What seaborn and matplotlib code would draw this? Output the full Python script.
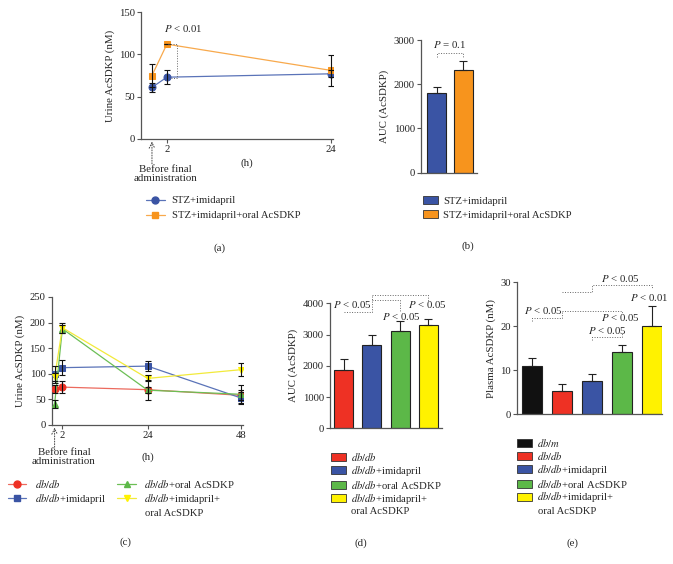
import matplotlib
matplotlib.use("Agg")
import matplotlib.pyplot as plt
import matplotlib.transforms as mtransforms
from matplotlib.lines import Line2D
from matplotlib.patches import Patch
import seaborn as sns
import pandas as pd

# ---- data ----
hours_a = [0, 2, 24]
stz_imi = [61, 73, 77]
stz_imi_sem = [5, 8, 4]
stz_oral = [75, 112, 81]
stz_oral_sem = [14, 0, 18]

groups_b = ["STZ+imidapril", "STZ+imidapril+oral AcSDKP"]
auc_b = [1800, 2320]
auc_b_sem = [130, 200]

hours_c = [0, 2, 24, 48]
dbdb_c = [71, 74, 69, 58]
dbdb_c_sem = [8, 12, 6, 10]
imi_c = [99, 112, 115, 53]
imi_c_sem = [16, 15, 10, 12]
oral_c = [41, 188, 68, 60]
oral_c_sem = [7, 8, 20, 18]
both_c = [93, 190, 91, 108]
both_c_sem = [8, 10, 6, 13]

groups_d = ["db/db", "db/db+imidapril", "db/db+oral AcSDKP", "db/db+imidapril+oral AcSDKP"]
auc_d = [1870, 2650, 3100, 3320]
auc_d_sem = [350, 350, 320, 170]

groups_e = ["db/m"] + groups_d
plasma_e = [11.0, 5.4, 7.6, 14.1, 20.1]
plasma_e_sem = [1.8, 1.4, 1.5, 1.7, 4.5]

# legend texts (the last one wraps onto a second line)
lab_dbm = r"$\mathit{db/m}$"
lab_dbdb = r"$\mathit{db/db}$"
lab_imi = r"$\mathit{db/db}$+imidapril"
lab_oral = r"$\mathit{db/db}$+oral AcSDKP"
lab_both = r"$\mathit{db/db}$+imidapril+"
lab_both_2 = "oral AcSDKP"

BLUE, ORANGE = "#3a54a4", "#f7941d"
RED, GREEN, YELLOW, BLACK = "#ee3124", "#5cb848", "#fff200", "#111111"
AX_COL = "#555555"

sns.set_style("ticks")
plt.rcParams["font.family"] = ["Liberation Serif", "DejaVu Serif"]
plt.rcParams["mathtext.fontset"] = "stix"
plt.rcParams["axes.edgecolor"] = AX_COL
plt.rcParams["xtick.color"] = AX_COL
plt.rcParams["ytick.color"] = AX_COL
plt.rcParams["xtick.labelcolor"] = "#222222"
plt.rcParams["ytick.labelcolor"] = "#222222"

W, H = 673, 564
fig = plt.figure(figsize=(W / 100, H / 100), dpi=100)


def box(l, t, r, b):
    return [l / W, 1 - b / H, (r - l) / W, (b - t) / H]


def fx(px):
    return px / W


def fy(py):
    return 1 - py / H


TICK_FS = 7.7
LAB_FS = 7.8
LEG_FS = 7.7


def style_axes(ax):
    sns.despine(ax=ax)
    ax.spines["left"].set_linewidth(0.9)
    ax.spines["bottom"].set_linewidth(0.9)
    ax.tick_params(labelsize=TICK_FS, width=0.8, length=3, pad=1.5)


def dotted(ax, xs, ys):
    ax.plot(xs, ys, color="#666666", lw=0.7, ls=(0, (1, 1.6)), clip_on=False, zorder=5)


def line_panel(ax, hours, series, sems, colors, lcolors, markers):
    for vals, err, c, lc, m in zip(series, sems, colors, lcolors, markers):
        sns.lineplot(x=hours, y=vals, ax=ax, color=lc, linewidth=0.9, marker=m,
                     markersize=5, markerfacecolor=c, markeredgecolor=c, zorder=3)
        ax.errorbar(hours, vals, yerr=err, fmt="none", ecolor="#111111",
                    elinewidth=0.8, capsize=2.5, capthick=0.8, zorder=4)


def before_mark(ax, xpx, ypx):
    trans = mtransforms.blended_transform_factory(ax.transData, ax.transAxes)
    ax.annotate("", xy=(0, -0.02), xycoords=trans, xytext=(0, -16),
                textcoords="offset points",
                arrowprops=dict(arrowstyle="->", ls=":", lw=0.7, color="#444444",
                                shrinkA=0, shrinkB=0))
    fig.text(fx(xpx), fy(ypx), "Before final\nadministration", ha="center", va="top",
             fontsize=LAB_FS, linespacing=0.95)


def bar_panel(ax, groups, vals, sems, colors, width):
    df = pd.DataFrame({"group": groups, "value": vals})
    sns.barplot(data=df, x="group", y="value", hue="group", palette=colors,
                order=groups, hue_order=groups, legend=False, ax=ax,
                width=width, edgecolor="#222222", linewidth=0.8, saturation=1)
    ax.errorbar(range(len(vals)), vals, yerr=[[0] * len(vals), sems], fmt="none",
                ecolor="#222222", elinewidth=0.8, capsize=3, capthick=0.8, zorder=4)
    ax.set_xticks([])
    ax.set_xlabel("")


def bar_legend(labels, colors, x, y, spacing=0.08):
    handles = [Patch(facecolor=c, edgecolor="#333333", linewidth=0.6) for c in colors]
    fig.legend(handles, labels, loc="upper left", bbox_to_anchor=(fx(x), fy(y)),
               frameon=False, fontsize=LEG_FS, borderpad=0, borderaxespad=0,
               handlelength=1.4, handleheight=0.75, handletextpad=0.5,
               labelspacing=spacing)


def wrap_text(x, y):
    fig.text(fx(x), fy(y), lab_both_2, ha="left", va="center", fontsize=LEG_FS)


# ---------------- (a) ----------------
ax = fig.add_axes(box(141, 12, 333, 139))
line_panel(ax, hours_a, [stz_imi, stz_oral], [stz_imi_sem, stz_oral_sem],
           [BLUE, ORANGE], ["#5a73b8", "#f8a94c"], ["o", "s"])
style_axes(ax)
ax.set_ylim(0, 150)
ax.set_xlim(-1.47, 24.26)
ax.set_yticks([0, 50, 100, 150])
ax.set_xticks([2, 24])
ax.set_ylabel("Urine AcSDKP (nM)", fontsize=LAB_FS, labelpad=3)
dotted(ax, [2.1, 3.35, 3.35, 2.4], [112, 112, 72, 72])
ax.text(4.2, 131, r"$P$ < 0.01", ha="center", va="center", fontsize=LAB_FS)
before_mark(ax, 165, 165)
fig.text(fx(247), fy(163), "(h)", ha="center", va="center", fontsize=LAB_FS)
handles = [Line2D([], [], color="#5a73b8", lw=0.9, marker="o", markersize=5,
                  markerfacecolor=BLUE, markeredgecolor=BLUE),
           Line2D([], [], color="#f8a94c", lw=0.9, marker="s", markersize=5,
                  markerfacecolor=ORANGE, markeredgecolor=ORANGE)]
fig.legend(handles, ["STZ+imidapril", "STZ+imidapril+oral AcSDKP"], loc="upper left",
           bbox_to_anchor=(fx(146), fy(196)), frameon=False, fontsize=LEG_FS,
           borderpad=0, borderaxespad=0, handlelength=1.75, handletextpad=0.65,
           labelspacing=0.5)
fig.text(fx(220), fy(248), "(a)", ha="center", va="center", fontsize=LAB_FS)

# ---------------- (b) ----------------
ax = fig.add_axes(box(421, 40, 477, 172.7))
bar_panel(ax, groups_b, auc_b, auc_b_sem, [BLUE, ORANGE], 0.72)
style_axes(ax)
ax.set_ylim(0, 3000)
ax.set_xlim(-0.6, 1.53)
ax.set_yticks([0, 1000, 2000, 3000])
ax.set_ylabel("AUC (AcSDKP)", fontsize=LAB_FS, labelpad=3)
dotted(ax, [0, 0, 1, 1], [2615, 2713, 2713, 2615])
ax.text(0.5, 2887, r"$P$ = 0.1", ha="center", va="center", fontsize=LAB_FS)
bar_legend(groups_b, [BLUE, ORANGE], 423, 196, spacing=0.4)
fig.text(fx(468), fy(246), "(b)", ha="center", va="center", fontsize=LAB_FS)

# ---------------- (c) ----------------
ax = fig.add_axes(box(51.7, 297, 243, 425))
line_panel(ax, hours_c, [dbdb_c, imi_c, oral_c, both_c],
           [dbdb_c_sem, imi_c_sem, oral_c_sem, both_c_sem],
           [RED, BLUE, GREEN, YELLOW], ["#ec6a5e", "#5a73b8", "#6cbf55", "#f2ea3a"],
           ["o", "s", "^", "v"])
style_axes(ax)
ax.set_ylim(0, 250)
ax.set_xlim(-0.75, 48.6)
ax.set_yticks([0, 50, 100, 150, 200, 250])
ax.set_xticks([2, 24, 48])
ax.set_ylabel("Urine AcSDKP (nM)", fontsize=LAB_FS, labelpad=3)
before_mark(ax, 64, 448)
fig.text(fx(148), fy(457), "(h)", ha="center", va="center", fontsize=LAB_FS)
cols_c = [(RED, "#ec6a5e", "o"), (BLUE, "#5a73b8", "s"),
          (GREEN, "#6cbf55", "^"), (YELLOW, "#f2ea3a", "v")]
handles = [Line2D([], [], color=lc, lw=0.9, marker=m, markersize=5,
                  markerfacecolor=c, markeredgecolor=c) for c, lc, m in cols_c]
fig.legend(handles, [lab_dbdb, lab_imi, lab_oral, lab_both], loc="upper left", ncol=2,
           bbox_to_anchor=(fx(8), fy(478)), frameon=False, fontsize=LEG_FS,
           borderpad=0, borderaxespad=0, handlelength=1.7, handletextpad=0.8,
           labelspacing=0.15, columnspacing=1.1)
wrap_text(145, 513)
fig.text(fx(125), fy(542), "(c)", ha="center", va="center", fontsize=LAB_FS)

# ---------------- (d) ----------------
ax = fig.add_axes(box(330, 303.3, 442, 428.3))
bar_panel(ax, groups_d, auc_d, auc_d_sem, [RED, BLUE, GREEN, YELLOW], 0.67)
style_axes(ax)
ax.set_ylim(0, 4000)
ax.set_xlim(-0.48, 3.48)
ax.set_yticks([0, 1000, 2000, 3000, 4000])
ax.set_ylabel("AUC (AcSDKP)", fontsize=LAB_FS, labelpad=3)
dotted(ax, [0, 1, 1], [3730, 3730, 4260])
dotted(ax, [1, 3, 3], [4260, 4260, 4050])
dotted(ax, [1, 2, 2], [4100, 4100, 3760])
ax.text(0.3, 3950, r"$P$ < 0.05", ha="center", va="center", fontsize=LAB_FS)
ax.text(2.06, 3570, r"$P$ < 0.05", ha="center", va="center", fontsize=LAB_FS)
ax.text(2.95, 3960, r"$P$ < 0.05", ha="center", va="center", fontsize=LAB_FS)
bar_legend([lab_dbdb, lab_imi, lab_oral, lab_both], [RED, BLUE, GREEN, YELLOW], 331, 451)
wrap_text(351, 512)
fig.text(fx(361), fy(543), "(d)", ha="center", va="center", fontsize=LAB_FS)

# ---------------- (e) ----------------
ax = fig.add_axes(box(517.3, 282.3, 662, 414.3))
bar_panel(ax, groups_e, plasma_e, plasma_e_sem, [BLACK, RED, BLUE, GREEN, YELLOW], 0.67)
style_axes(ax)
ax.set_ylim(0, 30)
ax.set_xlim(-0.49, 4.33)
ax.set_yticks([0, 10, 20, 30])
ax.set_ylabel("Plasma AcSDKP (nM)", fontsize=LAB_FS, labelpad=3)
dotted(ax, [0, 0, 1, 1], [21.3, 21.96, 21.96, 23.47])
dotted(ax, [1, 3, 3], [23.47, 23.47, 22.9])
dotted(ax, [2, 2, 3, 3], [17.0, 17.6, 17.6, 18.4])
dotted(ax, [1, 2, 2, 4, 4], [27.9, 27.9, 29.4, 29.4, 28.6])
ax.text(0.38, 23.5, r"$P$ < 0.05", ha="center", va="center", fontsize=LAB_FS)
ax.text(2.93, 21.96, r"$P$ < 0.05", ha="center", va="center", fontsize=LAB_FS)
ax.text(2.51, 19.1, r"$P$ < 0.05", ha="center", va="center", fontsize=LAB_FS)
ax.text(2.93, 30.9, r"$P$ < 0.05", ha="center", va="center", fontsize=LAB_FS)
ax.text(3.92, 26.6, r"$P$ < 0.01", ha="center", va="center", fontsize=LAB_FS)
bar_legend([lab_dbm, lab_dbdb, lab_imi, lab_oral, lab_both],
           [BLACK, RED, BLUE, GREEN, YELLOW], 517, 437)
wrap_text(538, 512)
fig.text(fx(572), fy(543), "(e)", ha="center", va="center", fontsize=LAB_FS)

fig.savefig("out.png", dpi=100)
